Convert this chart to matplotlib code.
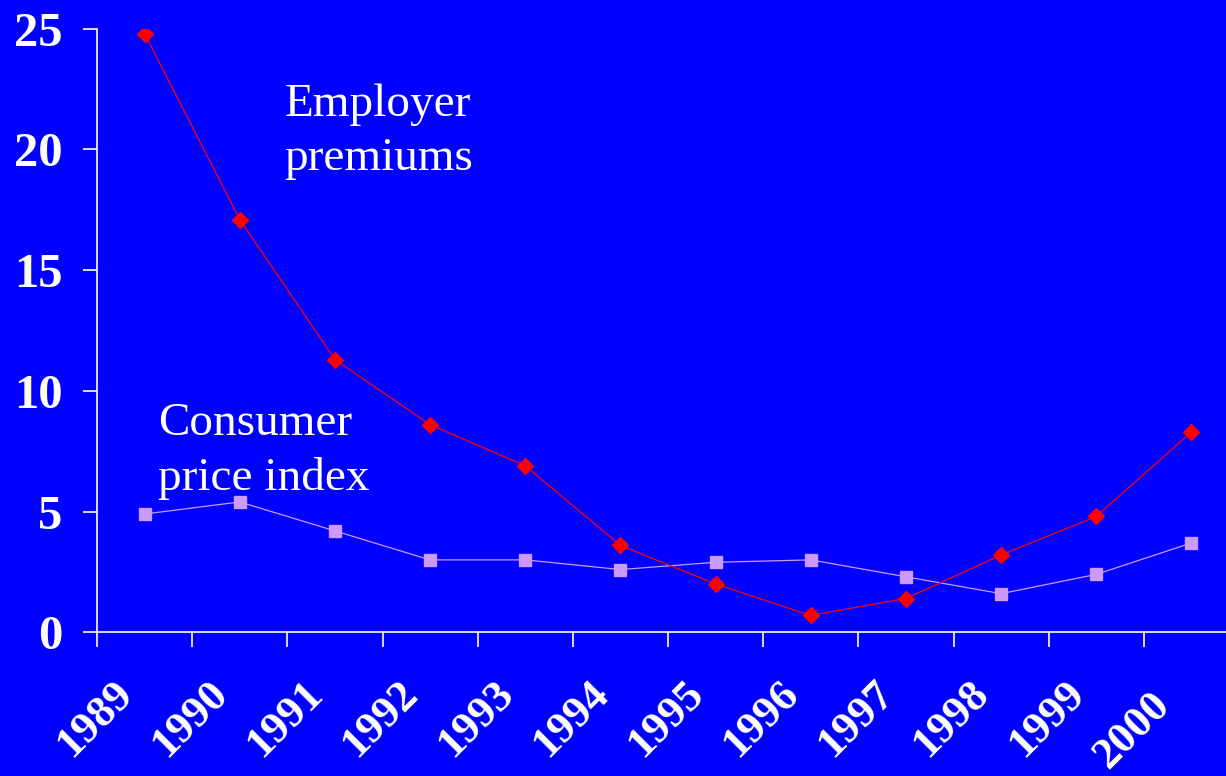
import matplotlib
matplotlib.use("Agg")
import matplotlib.pyplot as plt
import matplotlib.transforms as mtransforms
import numpy as np

years = ["1989", "1990", "1991", "1992", "1993", "1994",
         "1995", "1996", "1997", "1998", "1999", "2000"]
employer_premiums = [24.8, 17.1, 11.3, 8.6, 6.9, 3.6, 2.0, 0.7, 1.4, 3.2, 4.8, 8.3]
consumer_price_index = [4.9, 5.4, 4.2, 3.0, 3.0, 2.6, 2.9, 3.0, 2.3, 1.6, 2.4, 3.7]

bg = "#0000FF"
plt.rcParams["font.family"] = ["Liberation Serif", "DejaVu Serif"]

fig = plt.figure(figsize=(12.26, 7.76), dpi=100, facecolor=bg)
ax = fig.add_axes([97 / 1226, 143.7 / 776, 1142 / 1226, 603.5 / 776])
ax.set_facecolor(bg)

x = np.arange(len(years))
ax.plot(x, consumer_price_index, color="#CC99FF", lw=0.9, marker="s", ms=8,
        mec="#CC99FF", mfc="#CC99FF")
ax.plot(x, employer_premiums, color="#FF0000", lw=0.9, marker="D", ms=8.5,
        mec="#FF0000", mfc="#FF0000")

ax.set_xlim(-0.5, len(years) - 0.5)
ax.set_ylim(0, 25)

for s in ["top", "right"]:
    ax.spines[s].set_visible(False)
for s in ["left", "bottom"]:
    ax.spines[s].set_color("white")
    ax.spines[s].set_linewidth(1.2)

# y axis
ax.set_yticks([0, 5, 10, 15, 20, 25])
ax.tick_params(axis="y", colors="white", length=10, width=1.2, pad=15,
               labelsize=35)
for lab in ax.get_yticklabels():
    lab.set_fontweight("bold")

# x axis: tick marks between categories, labels at category centres
ax.set_xticks(np.arange(-0.5, len(years), 1.0))
ax.set_xticklabels([])
ax.tick_params(axis="x", which="major", colors="white", length=11, width=1.2)
ax.set_xticks(x, minor=True)
ax.set_xticklabels(years, minor=True, rotation=45, ha="right",
                   fontsize=32, fontweight="bold", color="white")
ax.tick_params(axis="x", which="minor", length=0, pad=29.5)
xlabels = ax.get_xticklabels(minor=True)
for lab in xlabels:
    lab.set_transform(lab.get_transform() +
                      mtransforms.ScaledTranslation(-0.04, 0, fig.dpi_scale_trans))
# last label sits a little lower/left in the original
xlabels[-1].set_transform(xlabels[-1].get_transform() +
                          mtransforms.ScaledTranslation(-0.10, -0.12, fig.dpi_scale_trans))

ax.text(1.47, 19.15, "Employer\npremiums", color="white", fontsize=34,
        linespacing=1.36, va="baseline")
ax.text(0.14, 5.9, "Consumer\nprice index", color="white", fontsize=34,
        linespacing=1.36, va="baseline")

fig.savefig("out.png", dpi=100, facecolor=bg)
